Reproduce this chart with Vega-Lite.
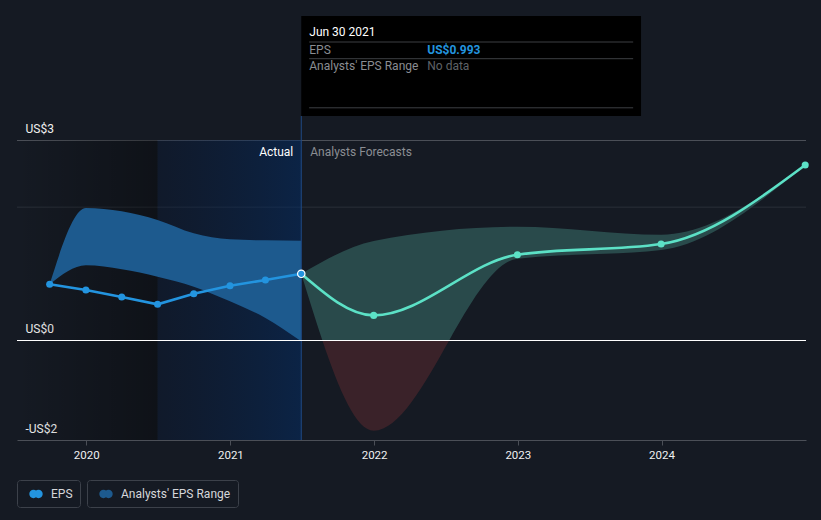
{
  "$schema": "https://vega.github.io/schema/vega-lite/v6.json",
  "background": "#151a23",
  "padding": {"left": 16, "top": 15, "right": 20, "bottom": 20},
  "spacing": 0,
  "bounds": "flush",
  "config": {
    "font": "Roboto",
    "view": {"stroke": null},
    "axis": {"labelFont": "Roboto"},
    "legend": {"labelFont": "Roboto"}
  },
  "data": {"values": [{"selected": "Jun 30 2021"}]},
  "datasets": {
    "actual": [
      {"date": "2019-09-30", "eps": 0.835},
      {"date": "2019-12-31", "eps": 0.75},
      {"date": "2020-03-31", "eps": 0.645},
      {"date": "2020-06-30", "eps": 0.535},
      {"date": "2020-09-30", "eps": 0.695},
      {"date": "2020-12-31", "eps": 0.815},
      {"date": "2021-03-31", "eps": 0.9},
      {"date": "2021-06-30", "eps": 0.993}
    ],
    "forecast": [
      {"date": "2021-06-30", "eps": 0.993},
      {"date": "2021-12-31", "eps": 0.369},
      {"date": "2022-12-31", "eps": 1.28},
      {"date": "2023-12-31", "eps": 1.44},
      {"date": "2024-12-31", "eps": 2.625}
    ],
    "pastRange": [
      {"date": "2019-09-30", "low": 0.835, "high": 0.835},
      {"date": "2019-12-31", "low": 1.12, "high": 1.98},
      {"date": "2020-03-31", "low": 1.06, "high": 1.93},
      {"date": "2020-06-30", "low": 0.95, "high": 1.8},
      {"date": "2020-09-30", "low": 0.8, "high": 1.6},
      {"date": "2020-12-31", "low": 0.58, "high": 1.51},
      {"date": "2021-03-31", "low": 0.33, "high": 1.495},
      {"date": "2021-06-30", "low": -0.02, "high": 1.49}
    ],
    "forecastRange": [
      {"date": "2021-06-30", "low": 0.993, "high": 0.993},
      {"date": "2021-12-31", "low": -1.36, "high": 1.485},
      {"date": "2022-12-31", "low": 1.22, "high": 1.7},
      {"date": "2023-12-31", "low": 1.35, "high": 1.58},
      {"date": "2024-12-31", "low": 2.625, "high": 2.625}
    ]
  },
  "vconcat": [
    {
      "width": 789,
      "height": 200,
      "layer": [
        {
          "mark": {"type": "rule", "color": "#4b4f57", "strokeWidth": 1, "yOffset": 0.5},
          "encoding": {
            "y": {"datum": 3, "type": "quantitative", "scale": {"domain": [0, 3], "nice": false, "zero": false},
              "axis": {"values": [0, 3], "labelExpr": "datum.value === 3 ? 'US$3' : 'US$0'", "title": null, "domain": false, "ticks": false, "tickSize": 0, "labelAlign": "left", "labelPadding": -8, "labelBaseline": "alphabetic", "labelOffset": -8, "labelColor": "#f0f0f0", "labelFontSize": 12, "grid": false}}
          }
        },
        {
          "mark": {"type": "rule", "color": "#2a2f38", "strokeWidth": 1, "yOffset": 0.5},
          "encoding": {
            "y": {"datum": 2, "type": "quantitative", "scale": {"domain": [0, 3], "nice": false, "zero": false},
              "axis": {"values": [0, 3], "labelExpr": "datum.value === 3 ? 'US$3' : 'US$0'", "title": null, "domain": false, "ticks": false, "tickSize": 0, "labelAlign": "left", "labelPadding": -8, "labelBaseline": "alphabetic", "labelOffset": -8, "labelColor": "#f0f0f0", "labelFontSize": 12, "grid": false}}
          }
        },
        {
          "mark": {"type": "rect", "fill": {"gradient": "linear", "x1": 0, "y1": 0, "x2": 1, "y2": 0, "stops": [{"offset": 0, "color": "rgba(0,0,0,0)"}, {"offset": 1, "color": "rgba(0,0,0,0.32)"}]}},
          "encoding": {
            "x": {"datum": {"year": 2019, "month": 7, "date": 9, "utc": true}, "type": "temporal", "scale": {"type": "utc", "domain": [{"year": 2019, "month": 7, "date": 9, "utc": true}, {"year": 2025, "month": 1, "date": 2, "utc": true}]}, "axis": null},
            "x2": {"datum": {"year": 2020, "month": 6, "date": 30, "utc": true}}
          }
        },
        {
          "mark": {"type": "rect", "fill": {"gradient": "linear", "x1": 0, "y1": 0, "x2": 1, "y2": 0, "stops": [{"offset": 0, "color": "rgba(5,25,60,0.3)"}, {"offset": 1, "color": "rgba(2,45,104,0.5)"}]}},
          "encoding": {
            "x": {"datum": {"year": 2020, "month": 6, "date": 30, "utc": true}, "type": "temporal", "scale": {"type": "utc", "domain": [{"year": 2019, "month": 7, "date": 9, "utc": true}, {"year": 2025, "month": 1, "date": 2, "utc": true}]}, "axis": null},
            "x2": {"datum": {"year": 2021, "month": 6, "date": 30, "utc": true}}
          }
        },
        {
          "data": {"name": "pastRange"},
          "mark": {"type": "area", "interpolate": "monotone", "opacity": 1, "clip": true},
          "encoding": {
            "x": {"field": "date", "type": "temporal", "scale": {"type": "utc", "domain": [{"year": 2019, "month": 7, "date": 9, "utc": true}, {"year": 2025, "month": 1, "date": 2, "utc": true}]}, "axis": null},
            "y": {"field": "high", "type": "quantitative", "scale": {"domain": [0, 3], "nice": false, "zero": false},
              "axis": {"values": [0, 3], "labelExpr": "datum.value === 3 ? 'US$3' : 'US$0'", "title": null, "domain": false, "ticks": false, "tickSize": 0, "labelAlign": "left", "labelPadding": -8, "labelBaseline": "alphabetic", "labelOffset": -8, "labelColor": "#f0f0f0", "labelFontSize": 12, "grid": false}},
            "y2": {"field": "low"},
            "fill": {"datum": "Analysts' EPS Range", "type": "nominal", "scale": {"range": ["#1d5a8e"]},
              "legend": {"orient": "none", "legendX": 70, "legendY": 340, "direction": "horizontal", "title": null, "symbolType": "M -1 0 A 0.62 0.62 0 1 1 0.24 0 A 0.62 0.62 0 1 1 -1 0 Z M -0.24 0 A 0.62 0.62 0 1 1 1 0 A 0.62 0.62 0 1 1 -0.24 0 Z", "symbolSize": 180, "symbolStrokeWidth": 0, "symbolOpacity": 1, "labelFontSize": 12, "labelColor": "#d5d7da", "strokeColor": "#3c414a", "cornerRadius": 3, "padding": 7, "symbolOffset": 5, "labelOffset": 8}}
          }
        },
        {
          "data": {"name": "forecastRange"},
          "mark": {"type": "area", "interpolate": "monotone", "opacity": 1, "clip": true, "fill": "#294a4b"},
          "encoding": {
            "x": {"field": "date", "type": "temporal", "scale": {"type": "utc", "domain": [{"year": 2019, "month": 7, "date": 9, "utc": true}, {"year": 2025, "month": 1, "date": 2, "utc": true}]}, "axis": null},
            "y": {"field": "high", "type": "quantitative", "scale": {"domain": [0, 3], "nice": false, "zero": false},
              "axis": {"values": [0, 3], "labelExpr": "datum.value === 3 ? 'US$3' : 'US$0'", "title": null, "domain": false, "ticks": false, "tickSize": 0, "labelAlign": "left", "labelPadding": -8, "labelBaseline": "alphabetic", "labelOffset": -8, "labelColor": "#f0f0f0", "labelFontSize": 12, "grid": false}},
            "y2": {"field": "low"}
          }
        },
        {
          "mark": {"type": "rule", "color": "#1f4a85", "strokeWidth": 1},
          "encoding": {
            "x": {"datum": {"year": 2021, "month": 6, "date": 30, "utc": true}, "type": "temporal", "scale": {"type": "utc", "domain": [{"year": 2019, "month": 7, "date": 9, "utc": true}, {"year": 2025, "month": 1, "date": 2, "utc": true}]}, "axis": null},
            "y": {"datum": 3.36, "type": "quantitative", "scale": {"domain": [0, 3], "nice": false, "zero": false},
              "axis": {"values": [0, 3], "labelExpr": "datum.value === 3 ? 'US$3' : 'US$0'", "title": null, "domain": false, "ticks": false, "tickSize": 0, "labelAlign": "left", "labelPadding": -8, "labelBaseline": "alphabetic", "labelOffset": -8, "labelColor": "#f0f0f0", "labelFontSize": 12, "grid": false}},
            "y2": {"datum": 0}
          }
        },
        {
          "data": {"name": "forecast"},
          "mark": {"type": "line", "interpolate": "monotone", "color": "#5ce1c6", "strokeWidth": 2.6},
          "encoding": {
            "x": {"field": "date", "type": "temporal", "scale": {"type": "utc", "domain": [{"year": 2019, "month": 7, "date": 9, "utc": true}, {"year": 2025, "month": 1, "date": 2, "utc": true}]}, "axis": null},
            "y": {"field": "eps", "type": "quantitative", "scale": {"domain": [0, 3], "nice": false, "zero": false},
              "axis": {"values": [0, 3], "labelExpr": "datum.value === 3 ? 'US$3' : 'US$0'", "title": null, "domain": false, "ticks": false, "tickSize": 0, "labelAlign": "left", "labelPadding": -8, "labelBaseline": "alphabetic", "labelOffset": -8, "labelColor": "#f0f0f0", "labelFontSize": 12, "grid": false}}
          }
        },
        {
          "data": {"name": "actual"},
          "mark": {"type": "line", "interpolate": "linear", "color": "#2394df", "strokeWidth": 2.6},
          "encoding": {
            "x": {"field": "date", "type": "temporal", "scale": {"type": "utc", "domain": [{"year": 2019, "month": 7, "date": 9, "utc": true}, {"year": 2025, "month": 1, "date": 2, "utc": true}]}, "axis": null},
            "y": {"field": "eps", "type": "quantitative", "scale": {"domain": [0, 3], "nice": false, "zero": false},
              "axis": {"values": [0, 3], "labelExpr": "datum.value === 3 ? 'US$3' : 'US$0'", "title": null, "domain": false, "ticks": false, "tickSize": 0, "labelAlign": "left", "labelPadding": -8, "labelBaseline": "alphabetic", "labelOffset": -8, "labelColor": "#f0f0f0", "labelFontSize": 12, "grid": false}}
          }
        },
        {
          "data": {"name": "forecast"},
          "transform": [{"filter": "toDate(datum.date) > datetime(2021, 7, 1)"}],
          "mark": {"type": "point", "filled": true, "size": 50, "opacity": 1, "color": "#5ce1c6"},
          "encoding": {
            "x": {"field": "date", "type": "temporal", "scale": {"type": "utc", "domain": [{"year": 2019, "month": 7, "date": 9, "utc": true}, {"year": 2025, "month": 1, "date": 2, "utc": true}]}, "axis": null},
            "y": {"field": "eps", "type": "quantitative", "scale": {"domain": [0, 3], "nice": false, "zero": false},
              "axis": {"values": [0, 3], "labelExpr": "datum.value === 3 ? 'US$3' : 'US$0'", "title": null, "domain": false, "ticks": false, "tickSize": 0, "labelAlign": "left", "labelPadding": -8, "labelBaseline": "alphabetic", "labelOffset": -8, "labelColor": "#f0f0f0", "labelFontSize": 12, "grid": false}}
          }
        },
        {
          "data": {"name": "actual"},
          "mark": {"type": "point", "filled": true, "size": 50, "opacity": 1},
          "encoding": {
            "x": {"field": "date", "type": "temporal", "scale": {"type": "utc", "domain": [{"year": 2019, "month": 7, "date": 9, "utc": true}, {"year": 2025, "month": 1, "date": 2, "utc": true}]}, "axis": null},
            "y": {"field": "eps", "type": "quantitative", "scale": {"domain": [0, 3], "nice": false, "zero": false},
              "axis": {"values": [0, 3], "labelExpr": "datum.value === 3 ? 'US$3' : 'US$0'", "title": null, "domain": false, "ticks": false, "tickSize": 0, "labelAlign": "left", "labelPadding": -8, "labelBaseline": "alphabetic", "labelOffset": -8, "labelColor": "#f0f0f0", "labelFontSize": 12, "grid": false}},
            "color": {"datum": "EPS", "type": "nominal", "scale": {"range": ["#2394df"]},
              "legend": {"orient": "none", "legendX": 0, "legendY": 340, "direction": "horizontal", "title": null, "symbolType": "M -1 0 A 0.62 0.62 0 1 1 0.24 0 A 0.62 0.62 0 1 1 -1 0 Z M -0.24 0 A 0.62 0.62 0 1 1 1 0 A 0.62 0.62 0 1 1 -0.24 0 Z", "symbolSize": 180, "symbolStrokeWidth": 0, "symbolOpacity": 1, "labelFontSize": 12, "labelColor": "#d5d7da", "strokeColor": "#3c414a", "cornerRadius": 3, "padding": 7, "symbolOffset": 5, "labelOffset": 8}}
          }
        },
        {
          "data": {"name": "actual"},
          "transform": [{"filter": "toDate(datum.date) > datetime(2021, 4, 1)"}],
          "mark": {"type": "point", "filled": true, "size": 55, "opacity": 1, "fill": "#2394df", "stroke": "#ffffff", "strokeWidth": 1.2},
          "encoding": {
            "x": {"field": "date", "type": "temporal", "scale": {"type": "utc", "domain": [{"year": 2019, "month": 7, "date": 9, "utc": true}, {"year": 2025, "month": 1, "date": 2, "utc": true}]}, "axis": null},
            "y": {"field": "eps", "type": "quantitative", "scale": {"domain": [0, 3], "nice": false, "zero": false},
              "axis": {"values": [0, 3], "labelExpr": "datum.value === 3 ? 'US$3' : 'US$0'", "title": null, "domain": false, "ticks": false, "tickSize": 0, "labelAlign": "left", "labelPadding": -8, "labelBaseline": "alphabetic", "labelOffset": -8, "labelColor": "#f0f0f0", "labelFontSize": 12, "grid": false}}
          }
        },
        {
          "mark": {"type": "text", "align": "right", "baseline": "middle", "dx": -8, "fontSize": 12, "color": "#ffffff"},
          "encoding": {
            "x": {"datum": {"year": 2021, "month": 6, "date": 30, "utc": true}, "type": "temporal", "scale": {"type": "utc", "domain": [{"year": 2019, "month": 7, "date": 9, "utc": true}, {"year": 2025, "month": 1, "date": 2, "utc": true}]}, "axis": null},
            "y": {"datum": 2.82, "type": "quantitative", "scale": {"domain": [0, 3], "nice": false, "zero": false},
              "axis": {"values": [0, 3], "labelExpr": "datum.value === 3 ? 'US$3' : 'US$0'", "title": null, "domain": false, "ticks": false, "tickSize": 0, "labelAlign": "left", "labelPadding": -8, "labelBaseline": "alphabetic", "labelOffset": -8, "labelColor": "#f0f0f0", "labelFontSize": 12, "grid": false}},
            "text": {"value": "Actual"}
          }
        },
        {
          "mark": {"type": "text", "align": "left", "baseline": "middle", "dx": 9, "fontSize": 12, "color": "#8b8e93"},
          "encoding": {
            "x": {"datum": {"year": 2021, "month": 6, "date": 30, "utc": true}, "type": "temporal", "scale": {"type": "utc", "domain": [{"year": 2019, "month": 7, "date": 9, "utc": true}, {"year": 2025, "month": 1, "date": 2, "utc": true}]}, "axis": null},
            "y": {"datum": 2.82, "type": "quantitative", "scale": {"domain": [0, 3], "nice": false, "zero": false},
              "axis": {"values": [0, 3], "labelExpr": "datum.value === 3 ? 'US$3' : 'US$0'", "title": null, "domain": false, "ticks": false, "tickSize": 0, "labelAlign": "left", "labelPadding": -8, "labelBaseline": "alphabetic", "labelOffset": -8, "labelColor": "#f0f0f0", "labelFontSize": 12, "grid": false}},
            "text": {"value": "Analysts Forecasts"}
          }
        },
        {
          "mark": {"type": "rect", "fill": "#000000"},
          "encoding": {
            "x": {"datum": {"year": 2021, "month": 6, "date": 30, "utc": true}, "type": "temporal", "scale": {"type": "utc", "domain": [{"year": 2019, "month": 7, "date": 9, "utc": true}, {"year": 2025, "month": 1, "date": 2, "utc": true}]}, "axis": null},
            "x2": {"datum": {"year": 2023, "month": 11, "date": 10, "utc": true}},
            "y": {"datum": 4.86, "type": "quantitative", "scale": {"domain": [0, 3], "nice": false, "zero": false},
              "axis": {"values": [0, 3], "labelExpr": "datum.value === 3 ? 'US$3' : 'US$0'", "title": null, "domain": false, "ticks": false, "tickSize": 0, "labelAlign": "left", "labelPadding": -8, "labelBaseline": "alphabetic", "labelOffset": -8, "labelColor": "#f0f0f0", "labelFontSize": 12, "grid": false}},
            "y2": {"datum": 3.36}
          }
        },
        {
          "mark": {"type": "rule", "color": "#3d3f43", "strokeWidth": 1, "yOffset": 0.5},
          "encoding": {
            "x": {"datum": {"year": 2021, "month": 7, "date": 20, "utc": true}, "type": "temporal", "scale": {"type": "utc", "domain": [{"year": 2019, "month": 7, "date": 9, "utc": true}, {"year": 2025, "month": 1, "date": 2, "utc": true}]}, "axis": null},
            "x2": {"datum": {"year": 2023, "month": 10, "date": 21, "utc": true}},
            "y": {"datum": 4.4775, "type": "quantitative", "scale": {"domain": [0, 3], "nice": false, "zero": false},
              "axis": {"values": [0, 3], "labelExpr": "datum.value === 3 ? 'US$3' : 'US$0'", "title": null, "domain": false, "ticks": false, "tickSize": 0, "labelAlign": "left", "labelPadding": -8, "labelBaseline": "alphabetic", "labelOffset": -8, "labelColor": "#f0f0f0", "labelFontSize": 12, "grid": false}}
          }
        },
        {
          "mark": {"type": "rule", "color": "#3d3f43", "strokeWidth": 1, "yOffset": 0.5},
          "encoding": {
            "x": {"datum": {"year": 2021, "month": 7, "date": 20, "utc": true}, "type": "temporal", "scale": {"type": "utc", "domain": [{"year": 2019, "month": 7, "date": 9, "utc": true}, {"year": 2025, "month": 1, "date": 2, "utc": true}]}, "axis": null},
            "x2": {"datum": {"year": 2023, "month": 10, "date": 21, "utc": true}},
            "y": {"datum": 4.227, "type": "quantitative", "scale": {"domain": [0, 3], "nice": false, "zero": false},
              "axis": {"values": [0, 3], "labelExpr": "datum.value === 3 ? 'US$3' : 'US$0'", "title": null, "domain": false, "ticks": false, "tickSize": 0, "labelAlign": "left", "labelPadding": -8, "labelBaseline": "alphabetic", "labelOffset": -8, "labelColor": "#f0f0f0", "labelFontSize": 12, "grid": false}}
          }
        },
        {
          "mark": {"type": "rule", "color": "#3d3f43", "strokeWidth": 1, "yOffset": 0.5},
          "encoding": {
            "x": {"datum": {"year": 2021, "month": 7, "date": 20, "utc": true}, "type": "temporal", "scale": {"type": "utc", "domain": [{"year": 2019, "month": 7, "date": 9, "utc": true}, {"year": 2025, "month": 1, "date": 2, "utc": true}]}, "axis": null},
            "x2": {"datum": {"year": 2023, "month": 10, "date": 21, "utc": true}},
            "y": {"datum": 3.4905, "type": "quantitative", "scale": {"domain": [0, 3], "nice": false, "zero": false},
              "axis": {"values": [0, 3], "labelExpr": "datum.value === 3 ? 'US$3' : 'US$0'", "title": null, "domain": false, "ticks": false, "tickSize": 0, "labelAlign": "left", "labelPadding": -8, "labelBaseline": "alphabetic", "labelOffset": -8, "labelColor": "#f0f0f0", "labelFontSize": 12, "grid": false}}
          }
        },
        {
          "mark": {"type": "text", "align": "left", "baseline": "middle", "dx": 8, "fontSize": 12, "color": "#ffffff"},
          "encoding": {
            "x": {"datum": {"year": 2021, "month": 6, "date": 30, "utc": true}, "type": "temporal", "scale": {"type": "utc", "domain": [{"year": 2019, "month": 7, "date": 9, "utc": true}, {"year": 2025, "month": 1, "date": 2, "utc": true}]}, "axis": null},
            "y": {"datum": 4.62, "type": "quantitative", "scale": {"domain": [0, 3], "nice": false, "zero": false},
              "axis": {"values": [0, 3], "labelExpr": "datum.value === 3 ? 'US$3' : 'US$0'", "title": null, "domain": false, "ticks": false, "tickSize": 0, "labelAlign": "left", "labelPadding": -8, "labelBaseline": "alphabetic", "labelOffset": -8, "labelColor": "#f0f0f0", "labelFontSize": 12, "grid": false}},
            "text": {"field": "selected"}
          }
        },
        {
          "mark": {"type": "text", "align": "left", "baseline": "middle", "dx": 8, "fontSize": 12, "color": "#8a8d92"},
          "encoding": {
            "x": {"datum": {"year": 2021, "month": 6, "date": 30, "utc": true}, "type": "temporal", "scale": {"type": "utc", "domain": [{"year": 2019, "month": 7, "date": 9, "utc": true}, {"year": 2025, "month": 1, "date": 2, "utc": true}]}, "axis": null},
            "y": {"datum": 4.3545, "type": "quantitative", "scale": {"domain": [0, 3], "nice": false, "zero": false},
              "axis": {"values": [0, 3], "labelExpr": "datum.value === 3 ? 'US$3' : 'US$0'", "title": null, "domain": false, "ticks": false, "tickSize": 0, "labelAlign": "left", "labelPadding": -8, "labelBaseline": "alphabetic", "labelOffset": -8, "labelColor": "#f0f0f0", "labelFontSize": 12, "grid": false}},
            "text": {"value": "EPS"}
          }
        },
        {
          "mark": {"type": "text", "align": "left", "baseline": "middle", "dx": 126, "fontSize": 12, "fontWeight": "bold", "color": "#2394df"},
          "encoding": {
            "x": {"datum": {"year": 2021, "month": 6, "date": 30, "utc": true}, "type": "temporal", "scale": {"type": "utc", "domain": [{"year": 2019, "month": 7, "date": 9, "utc": true}, {"year": 2025, "month": 1, "date": 2, "utc": true}]}, "axis": null},
            "y": {"datum": 4.3545, "type": "quantitative", "scale": {"domain": [0, 3], "nice": false, "zero": false},
              "axis": {"values": [0, 3], "labelExpr": "datum.value === 3 ? 'US$3' : 'US$0'", "title": null, "domain": false, "ticks": false, "tickSize": 0, "labelAlign": "left", "labelPadding": -8, "labelBaseline": "alphabetic", "labelOffset": -8, "labelColor": "#f0f0f0", "labelFontSize": 12, "grid": false}},
            "text": {"value": "US$0.993"}
          }
        },
        {
          "mark": {"type": "text", "align": "left", "baseline": "middle", "dx": 8, "fontSize": 12, "color": "#8a8d92"},
          "encoding": {
            "x": {"datum": {"year": 2021, "month": 6, "date": 30, "utc": true}, "type": "temporal", "scale": {"type": "utc", "domain": [{"year": 2019, "month": 7, "date": 9, "utc": true}, {"year": 2025, "month": 1, "date": 2, "utc": true}]}, "axis": null},
            "y": {"datum": 4.1175, "type": "quantitative", "scale": {"domain": [0, 3], "nice": false, "zero": false},
              "axis": {"values": [0, 3], "labelExpr": "datum.value === 3 ? 'US$3' : 'US$0'", "title": null, "domain": false, "ticks": false, "tickSize": 0, "labelAlign": "left", "labelPadding": -8, "labelBaseline": "alphabetic", "labelOffset": -8, "labelColor": "#f0f0f0", "labelFontSize": 12, "grid": false}},
            "text": {"value": "Analysts' EPS Range"}
          }
        },
        {
          "mark": {"type": "text", "align": "left", "baseline": "middle", "dx": 126, "fontSize": 12, "color": "#5f6267"},
          "encoding": {
            "x": {"datum": {"year": 2021, "month": 6, "date": 30, "utc": true}, "type": "temporal", "scale": {"type": "utc", "domain": [{"year": 2019, "month": 7, "date": 9, "utc": true}, {"year": 2025, "month": 1, "date": 2, "utc": true}]}, "axis": null},
            "y": {"datum": 4.1175, "type": "quantitative", "scale": {"domain": [0, 3], "nice": false, "zero": false},
              "axis": {"values": [0, 3], "labelExpr": "datum.value === 3 ? 'US$3' : 'US$0'", "title": null, "domain": false, "ticks": false, "tickSize": 0, "labelAlign": "left", "labelPadding": -8, "labelBaseline": "alphabetic", "labelOffset": -8, "labelColor": "#f0f0f0", "labelFontSize": 12, "grid": false}},
            "text": {"value": "No data"}
          }
        }
      ]
    },
    {
      "width": 789,
      "height": 100,
      "layer": [
        {
          "mark": {"type": "rect", "fill": {"gradient": "linear", "x1": 0, "y1": 0, "x2": 1, "y2": 0, "stops": [{"offset": 0, "color": "rgba(0,0,0,0)"}, {"offset": 1, "color": "rgba(0,0,0,0.32)"}]}},
          "encoding": {
            "x": {"datum": {"year": 2019, "month": 7, "date": 9, "utc": true}, "type": "temporal", "scale": {"type": "utc", "domain": [{"year": 2019, "month": 7, "date": 9, "utc": true}, {"year": 2025, "month": 1, "date": 2, "utc": true}]},
              "axis": {"title": null, "format": "%Y", "values": [{"year": 2020, "month": 1, "date": 1, "utc": true}, {"year": 2021, "month": 1, "date": 1, "utc": true}, {"year": 2022, "month": 1, "date": 1, "utc": true}, {"year": 2023, "month": 1, "date": 1, "utc": true}, {"year": 2024, "month": 1, "date": 1, "utc": true}], "domainColor": "#4b4f57", "tickColor": "#4b4f57", "tickSize": 5, "labelColor": "#f0f0f0", "labelFontSize": 11.5, "labelPadding": 4, "grid": false, "labelFlush": false}},
            "x2": {"datum": {"year": 2020, "month": 6, "date": 30, "utc": true}}
          }
        },
        {
          "mark": {"type": "rect", "fill": {"gradient": "linear", "x1": 0, "y1": 0, "x2": 1, "y2": 0, "stops": [{"offset": 0, "color": "rgba(5,25,60,0.3)"}, {"offset": 1, "color": "rgba(2,45,104,0.5)"}]}},
          "encoding": {
            "x": {"datum": {"year": 2020, "month": 6, "date": 30, "utc": true}, "type": "temporal", "scale": {"type": "utc", "domain": [{"year": 2019, "month": 7, "date": 9, "utc": true}, {"year": 2025, "month": 1, "date": 2, "utc": true}]},
              "axis": {"title": null, "format": "%Y", "values": [{"year": 2020, "month": 1, "date": 1, "utc": true}, {"year": 2021, "month": 1, "date": 1, "utc": true}, {"year": 2022, "month": 1, "date": 1, "utc": true}, {"year": 2023, "month": 1, "date": 1, "utc": true}, {"year": 2024, "month": 1, "date": 1, "utc": true}], "domainColor": "#4b4f57", "tickColor": "#4b4f57", "tickSize": 5, "labelColor": "#f0f0f0", "labelFontSize": 11.5, "labelPadding": 4, "grid": false, "labelFlush": false}},
            "x2": {"datum": {"year": 2021, "month": 6, "date": 30, "utc": true}}
          }
        },
        {
          "data": {"name": "pastRange"},
          "mark": {"type": "area", "interpolate": "monotone", "opacity": 1, "clip": true, "fill": "#1d5a8e"},
          "encoding": {
            "x": {"field": "date", "type": "temporal", "scale": {"type": "utc", "domain": [{"year": 2019, "month": 7, "date": 9, "utc": true}, {"year": 2025, "month": 1, "date": 2, "utc": true}]},
              "axis": {"title": null, "format": "%Y", "values": [{"year": 2020, "month": 1, "date": 1, "utc": true}, {"year": 2021, "month": 1, "date": 1, "utc": true}, {"year": 2022, "month": 1, "date": 1, "utc": true}, {"year": 2023, "month": 1, "date": 1, "utc": true}, {"year": 2024, "month": 1, "date": 1, "utc": true}], "domainColor": "#4b4f57", "tickColor": "#4b4f57", "tickSize": 5, "labelColor": "#f0f0f0", "labelFontSize": 11.5, "labelPadding": 4, "grid": false, "labelFlush": false}},
            "y": {"field": "high", "type": "quantitative", "scale": {"domain": [-1.5, 0], "nice": false, "zero": false},
              "axis": {"values": [-1.5], "labelExpr": "'-US$2'", "title": null, "domain": false, "ticks": false, "tickSize": 0, "labelAlign": "left", "labelPadding": -8, "labelBaseline": "alphabetic", "labelOffset": -8, "labelColor": "#f0f0f0", "labelFontSize": 12, "grid": false}},
            "y2": {"field": "low"}
          }
        },
        {
          "data": {"name": "forecastRange"},
          "mark": {"type": "area", "interpolate": "monotone", "opacity": 1, "clip": true, "fill": "#3a2229"},
          "encoding": {
            "x": {"field": "date", "type": "temporal", "scale": {"type": "utc", "domain": [{"year": 2019, "month": 7, "date": 9, "utc": true}, {"year": 2025, "month": 1, "date": 2, "utc": true}]},
              "axis": {"title": null, "format": "%Y", "values": [{"year": 2020, "month": 1, "date": 1, "utc": true}, {"year": 2021, "month": 1, "date": 1, "utc": true}, {"year": 2022, "month": 1, "date": 1, "utc": true}, {"year": 2023, "month": 1, "date": 1, "utc": true}, {"year": 2024, "month": 1, "date": 1, "utc": true}], "domainColor": "#4b4f57", "tickColor": "#4b4f57", "tickSize": 5, "labelColor": "#f0f0f0", "labelFontSize": 11.5, "labelPadding": 4, "grid": false, "labelFlush": false}},
            "y": {"field": "high", "type": "quantitative", "scale": {"domain": [-1.5, 0], "nice": false, "zero": false},
              "axis": {"values": [-1.5], "labelExpr": "'-US$2'", "title": null, "domain": false, "ticks": false, "tickSize": 0, "labelAlign": "left", "labelPadding": -8, "labelBaseline": "alphabetic", "labelOffset": -8, "labelColor": "#f0f0f0", "labelFontSize": 12, "grid": false}},
            "y2": {"field": "low"}
          }
        },
        {
          "mark": {"type": "rule", "color": "#1f4a85", "strokeWidth": 1},
          "encoding": {
            "x": {"datum": {"year": 2021, "month": 6, "date": 30, "utc": true}, "type": "temporal", "scale": {"type": "utc", "domain": [{"year": 2019, "month": 7, "date": 9, "utc": true}, {"year": 2025, "month": 1, "date": 2, "utc": true}]},
              "axis": {"title": null, "format": "%Y", "values": [{"year": 2020, "month": 1, "date": 1, "utc": true}, {"year": 2021, "month": 1, "date": 1, "utc": true}, {"year": 2022, "month": 1, "date": 1, "utc": true}, {"year": 2023, "month": 1, "date": 1, "utc": true}, {"year": 2024, "month": 1, "date": 1, "utc": true}], "domainColor": "#4b4f57", "tickColor": "#4b4f57", "tickSize": 5, "labelColor": "#f0f0f0", "labelFontSize": 11.5, "labelPadding": 4, "grid": false, "labelFlush": false}},
            "y": {"datum": 0, "type": "quantitative", "scale": {"domain": [-1.5, 0], "nice": false, "zero": false},
              "axis": {"values": [-1.5], "labelExpr": "'-US$2'", "title": null, "domain": false, "ticks": false, "tickSize": 0, "labelAlign": "left", "labelPadding": -8, "labelBaseline": "alphabetic", "labelOffset": -8, "labelColor": "#f0f0f0", "labelFontSize": 12, "grid": false}},
            "y2": {"datum": -1.5}
          }
        },
        {
          "mark": {"type": "rule", "color": "#ffffff", "strokeWidth": 1, "yOffset": 0.5},
          "encoding": {
            "y": {"datum": 0, "type": "quantitative", "scale": {"domain": [-1.5, 0], "nice": false, "zero": false},
              "axis": {"values": [-1.5], "labelExpr": "'-US$2'", "title": null, "domain": false, "ticks": false, "tickSize": 0, "labelAlign": "left", "labelPadding": -8, "labelBaseline": "alphabetic", "labelOffset": -8, "labelColor": "#f0f0f0", "labelFontSize": 12, "grid": false}}
          }
        }
      ]
    }
  ]
}
